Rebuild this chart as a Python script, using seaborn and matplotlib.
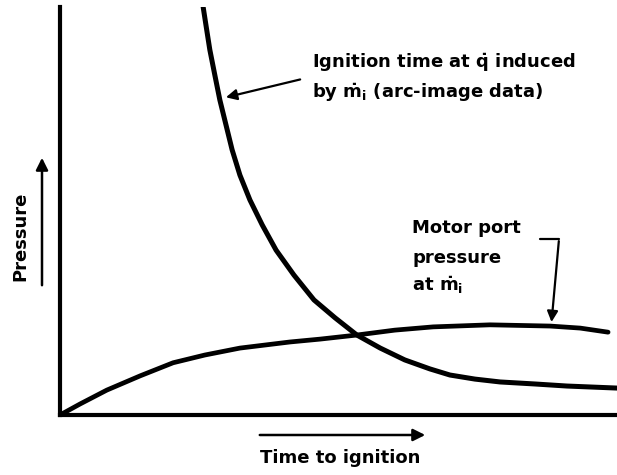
import matplotlib
matplotlib.use("Agg")
import matplotlib.pyplot as plt
import seaborn as sns
import pandas as pd

# Ignition time curve (arc-image data), schematic units
ign_x = [2.57, 2.62, 2.69, 2.78, 2.87, 2.98, 3.09, 3.23, 3.41, 3.63, 3.88, 4.20, 4.56, 4.94,
         5.33, 5.75, 6.19, 6.64, 7.00, 7.45, 7.90, 8.53, 9.10, 10.0]
ign_y = [10.0, 9.56, 8.95, 8.33, 7.72, 7.11, 6.50, 5.88, 5.27, 4.66, 4.04, 3.43, 2.82, 2.38,
         1.96, 1.64, 1.35, 1.13, 0.98, 0.88, 0.81, 0.76, 0.71, 0.66]

# Motor port pressure curve
prs_x = [0.0, 0.36, 0.84, 1.44, 2.03, 2.60, 3.23, 4.13, 4.67, 5.33, 6.01, 6.70, 7.72, 8.80,
         9.34, 9.84]
prs_y = [0.0, 0.27, 0.61, 0.96, 1.28, 1.47, 1.64, 1.79, 1.86, 1.96, 2.08, 2.16, 2.21, 2.18,
         2.13, 2.03]

ign_label = ["Ignition time at $\\dot{q}$ induced", "by $\\dot{m}_i$ (arc-image data)"]
motor_label = ["Motor port", "pressure", "at $\\dot{m}_i$"]

sns.set_style("white")
plt.rcParams["font.family"] = ["DejaVu Sans"]
plt.rcParams["mathtext.default"] = "regular"

fig = plt.figure(figsize=(6.17, 4.75), dpi=100)
ax = fig.add_axes([60 / 617, 60 / 475, 557 / 617, 408 / 475])

df_ign = pd.DataFrame({"x": ign_x, "y": ign_y})
df_prs = pd.DataFrame({"x": prs_x, "y": prs_y})
sns.lineplot(data=df_ign, x="x", y="y", ax=ax, color="black", lw=3.6, sort=False,
             solid_capstyle="round", solid_joinstyle="round")
sns.lineplot(data=df_prs, x="x", y="y", ax=ax, color="black", lw=3.4, sort=False,
             solid_capstyle="round", solid_joinstyle="round")

ax.set_xlim(0, 10)
ax.set_ylim(0, 10)
ax.set_xticks([])
ax.set_yticks([])
ax.set_xlabel("")
ax.set_ylabel("")
for side in ["top", "right"]:
    ax.spines[side].set_visible(False)
for side in ["left", "bottom"]:
    ax.spines[side].set_linewidth(3.0)
    ax.spines[side].set_color("black")

txt = dict(fontsize=13, fontweight="bold", color="black")

# ignition label + arrow
ax.text(4.52, 8.63, ign_label[0], ha="left", va="center", **txt)
ax.text(4.52, 7.89, ign_label[1], ha="left", va="center", **txt)
ax.annotate("", xy=(2.93, 7.77), xytext=(4.36, 8.24),
            arrowprops=dict(arrowstyle="-|>", color="black", lw=1.6, mutation_scale=16))

# motor port label + bracket arrow
for i, s in enumerate(motor_label):
    ax.text(6.32, [4.58, 3.85, 3.19][i], s, ha="left", va="center", **txt)
ax.plot([8.62, 8.96], [4.31, 4.31], color="black", lw=1.6)
ax.annotate("", xy=(8.82, 2.21), xytext=(8.96, 4.33),
            arrowprops=dict(arrowstyle="-|>", color="black", lw=1.6, mutation_scale=16))

# axis arrows and titles outside the axes
fig.add_artist(matplotlib.patches.FancyArrowPatch(
    (42 / 617, 1 - 288 / 475), (42 / 617, 1 - 155 / 475), transform=fig.transFigure,
    arrowstyle="-|>", mutation_scale=18, color="black", lw=1.8))
fig.text(20 / 617, 1 - 236 / 475, "Pressure", rotation=90, ha="center", va="center", **txt)

fig.add_artist(matplotlib.patches.FancyArrowPatch(
    (257 / 617, 1 - 435 / 475), (428 / 617, 1 - 435 / 475), transform=fig.transFigure,
    arrowstyle="-|>", mutation_scale=18, color="black", lw=1.8))
fig.text(340 / 617, 1 - 458 / 475, "Time to ignition", ha="center", va="center", **txt)

fig.savefig("out.png", dpi=100)
